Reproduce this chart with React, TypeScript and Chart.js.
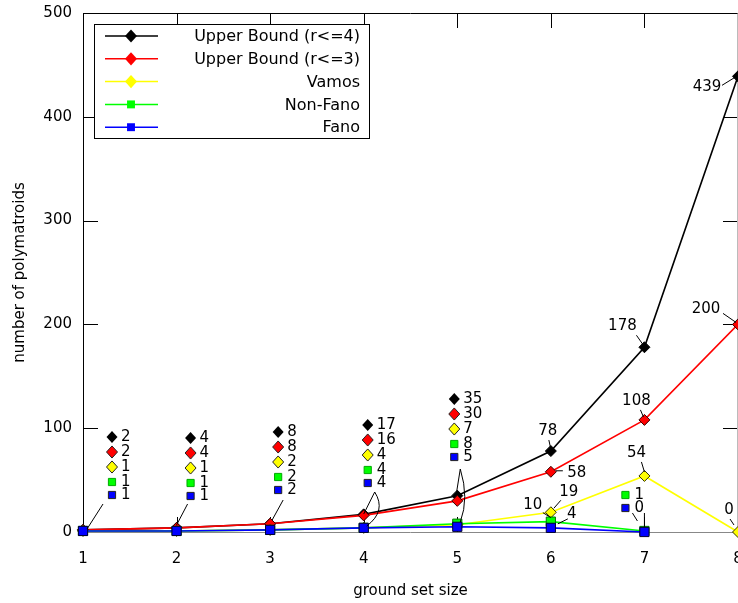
import { useEffect, useRef } from 'react';
import { Chart, registerables } from 'chart.js';
Chart.register(...registerables);

// ---------- data ----------
const groundSetSizes = [1, 2, 3, 4, 5, 6, 7, 8];
const upperBoundR4 = [2, 4, 8, 17, 35, 78, 178, 439];
const upperBoundR3 = [2, 4, 8, 16, 30, 58, 108, 200];
const vamos = [1, 1, 2, 4, 7, 19, 54, 0];
const nonFano = [1, 1, 2, 4, 8, 10, 1];
const fano = [1, 1, 2, 4, 5, 4, 0];
const yTicks = [0, 100, 200, 300, 400, 500];
const seriesNames = ['Upper Bound (r<=4)', 'Upper Bound (r<=3)', 'Vamos', 'Non-Fano', 'Fano'];
const xTitle = 'ground set size';
const yTitle = 'number of polymatroids';

// ---------- styles ----------
const FONT = "'DejaVu Sans', sans-serif";
const COLORS = ['#000000', '#ff0000', '#ffff00', '#00ff00', '#0000ff'];
const BORDERS = ['#000000', '#330000', '#333300', '#007700', '#000033'];
const SHAPES = ['rectRot', 'rectRot', 'rectRot', 'rect', 'rect'];
const ORDER = [5, 4, 3, 2, 1];
const TICK_LEN = 15;

// annotation columns: index into data, pixel offset from (x, 0)
const columns = [
  { i: 0, dx: 29, top: -95, series: [0, 1, 2, 3, 4] },
  { i: 1, dx: 14, top: -94, series: [0, 1, 2, 3, 4] },
  { i: 2, dx: 8, top: -100, series: [0, 1, 2, 3, 4] },
  { i: 3, dx: 4, top: -107, series: [0, 1, 2, 3, 4] },
  { i: 4, dx: -3, top: -133, series: [0, 1, 2, 3, 4] },
  { i: 6, dx: -19, top: -82, series: [3, 4] },
];
const rowOffsets = [0, 15, 30, 45, 58];
// connectors relative to (x pixel, zero pixel): [x1,y1,x2,y2] or with control [x1,y1,cx,cy,x2,y2]
const connectors: { i: number; pts: number[] }[] = [
  { i: 0, pts: [20, -28, 4, -3] },
  { i: 1, pts: [11, -28, 0, -7] },
  { i: 2, pts: [13, -32, 2, -12] },
  { i: 3, pts: [11, -40, 0, -18] },
  { i: 3, pts: [11, -40, 23, -21, 3, -6] },
  { i: 4, pts: [3, -63, -1, -38] },
  { i: 4, pts: [3, -63, 12, -34, 3, -10] },
  { i: 6, pts: [-12, -19, -7, -11] },
  { i: 6, pts: [0, -19, 0, -5] },
];
// point labels: series, index, label offset, leader offsets
const pointLabels = [
  { s: 0, i: 7, dx: -31, dy: 11, l: [-16, 9, -3, 1] },
  { s: 1, i: 7, dx: -32, dy: -15, l: [-15, -11, -2, -2] },
  { s: 0, i: 6, dx: -22, dy: -21, l: [-8, -12, -1, -2] },
  { s: 1, i: 6, dx: -8, dy: -19, l: [-4, -10, -1, -3] },
  { s: 0, i: 5, dx: -3, dy: -20, l: [-2, -11, 0, -2] },
  { s: 1, i: 5, dx: 26, dy: 1, l: [12, -1, 5, -1] },
  { s: 2, i: 6, dx: -8, dy: -23, l: [-3, -14, 0, -4] },
  { s: 2, i: 5, dx: 18, dy: -20, l: [10, -12, 3, -4] },
  { s: 3, i: 5, dx: -18, dy: -17, l: [-8, -9, 0, -4] },
  { s: 4, i: 5, dx: 21, dy: -14, l: [17, -9, 7, -4] },
  { s: 2, i: 7, dx: -9, dy: -22, l: [-8, -13, -4, -7] },
];

const allSeries = [upperBoundR4, upperBoundR3, vamos, nonFano, fano];

function drawMarker(ctx: CanvasRenderingContext2D, shape: string, x: number, y: number, fill: string, stroke: string | null, size: number) {
  ctx.save();
  ctx.beginPath();
  if (shape === 'rectRot') {
    ctx.moveTo(x, y - size * 1.1);
    ctx.lineTo(x + size, y);
    ctx.lineTo(x, y + size * 1.1);
    ctx.lineTo(x - size, y);
    ctx.closePath();
  } else {
    ctx.rect(x - size * 0.72, y - size * 0.72, size * 1.44, size * 1.44);
  }
  ctx.fillStyle = fill;
  ctx.fill();
  if (stroke) {
    ctx.strokeStyle = stroke;
    ctx.lineWidth = 1;
    ctx.stroke();
  }
  ctx.restore();
}

const decorPlugin = {
  id: 'decor',
  beforeDatasetsDraw(chart: any) {
    const { ctx, chartArea: a, scales } = chart;
    const xs = scales.x, ys = scales.y;
    ctx.save();
    ctx.lineWidth = 1;
    ctx.strokeStyle = '#000';
    ctx.beginPath();
    groundSetSizes.forEach((v) => {
      const px = Math.round(xs.getPixelForValue(v)) + 0.5;
      ctx.moveTo(px, a.bottom); ctx.lineTo(px, a.bottom - TICK_LEN);
      ctx.moveTo(px, a.top); ctx.lineTo(px, a.top + TICK_LEN);
    });
    yTicks.forEach((v) => {
      const py = Math.round(ys.getPixelForValue(v)) + 0.5;
      ctx.moveTo(a.left, py); ctx.lineTo(a.left + TICK_LEN, py);
      ctx.moveTo(a.right, py); ctx.lineTo(a.right - TICK_LEN, py);
    });
    ctx.stroke();
    ctx.beginPath();
    ctx.moveTo(Math.round(a.left) + 0.5, Math.round(a.bottom) + 0.5);
    ctx.lineTo(Math.round(a.left) + 0.5, Math.round(a.top) + 0.5);
    ctx.lineTo(Math.round(a.right) - 0.5, Math.round(a.top) + 0.5);
    ctx.stroke();
    ctx.strokeStyle = '#bbb';
    ctx.beginPath();
    ctx.moveTo(Math.round(a.right) - 0.5, Math.round(a.top) + 0.5);
    ctx.lineTo(Math.round(a.right) - 0.5, Math.round(a.bottom) + 0.5);
    ctx.stroke();
    ctx.strokeStyle = '#888';
    ctx.beginPath();
    ctx.moveTo(a.left, Math.round(a.bottom) + 0.5);
    ctx.lineTo(a.right, Math.round(a.bottom) + 0.5);
    ctx.stroke();
    ctx.restore();
  },
  afterDatasetsDraw(chart: any) {
    const { ctx, scales } = chart;
    const xs = scales.x, ys = scales.y;
    const zero = ys.getPixelForValue(0);
    ctx.save();
    ctx.font = `15px ${FONT}`;
    ctx.fillStyle = '#000';
    ctx.textBaseline = 'middle';
    // connectors
    ctx.strokeStyle = '#000';
    ctx.lineWidth = 1;
    connectors.forEach((c) => {
      const bx = xs.getPixelForValue(groundSetSizes[c.i]);
      const p = c.pts;
      ctx.beginPath();
      ctx.moveTo(bx + p[0], zero + p[1]);
      if (p.length === 4) ctx.lineTo(bx + p[2], zero + p[3]);
      else ctx.quadraticCurveTo(bx + p[2], zero + p[3], bx + p[4], zero + p[5]);
      ctx.stroke();
    });
    // annotation columns
    columns.forEach((col) => {
      const bx = xs.getPixelForValue(groundSetSizes[col.i]) + col.dx;
      col.series.forEach((s) => {
        const y = zero + col.top + rowOffsets[s];
        drawMarker(ctx, SHAPES[s], bx, y, COLORS[s], s === 3 ? '#00aa00' : (s === 0 ? null : '#222'), SHAPES[s] === 'rect' ? 5 : 5.5);
        ctx.fillStyle = '#000';
        ctx.textAlign = 'left';
        ctx.fillText(String(allSeries[s][col.i]), bx + 9, y);
      });
    });
    // point labels
    pointLabels.forEach((pl) => {
      const px = xs.getPixelForValue(groundSetSizes[pl.i]);
      const py = ys.getPixelForValue(allSeries[pl.s][pl.i]);
      ctx.textAlign = 'center';
      ctx.fillText(String(allSeries[pl.s][pl.i]), px + pl.dx, py + pl.dy);
      ctx.beginPath();
      ctx.moveTo(px + pl.l[0], py + pl.l[1]);
      ctx.lineTo(px + pl.l[2], py + pl.l[3]);
      ctx.stroke();
    });
    ctx.restore();
  },
  afterDraw(chart: any) {
    const { ctx } = chart;
    ctx.save();
    // legend box
    ctx.strokeStyle = '#000';
    ctx.lineWidth = 1;
    ctx.fillStyle = '#fff';
    ctx.fillRect(94.5, 24.5, 275, 114);
    ctx.strokeRect(94.5, 24.5, 275, 114);
    ctx.font = `16px ${FONT}`;
    ctx.textAlign = 'right';
    ctx.textBaseline = 'middle';
    seriesNames.forEach((name, k) => {
      const y = 36 + k * 22.8;
      ctx.strokeStyle = COLORS[k];
      ctx.lineWidth = 1.5;
      ctx.beginPath();
      ctx.moveTo(105, y); ctx.lineTo(158, y);
      ctx.stroke();
      drawMarker(ctx, SHAPES[k], 131, y, COLORS[k], null, SHAPES[k] === 'rect' ? 5.5 : 6);
      ctx.fillStyle = '#000';
      ctx.fillText(name, 360, y + 1);
    });
    ctx.restore();
  },
};

export default function App() {
  const ref = useRef<HTMLCanvasElement>(null);
  useEffect(() => {
    if (!ref.current) return;
    const datasets = allSeries.map((vals, k) => ({
      label: seriesNames[k],
      data: vals.map((v, i) => ({ x: groundSetSizes[i], y: v })),
      borderColor: COLORS[k],
      backgroundColor: COLORS[k],
      pointBackgroundColor: COLORS[k],
      pointBorderColor: BORDERS[k],
      pointBorderWidth: 1,
      pointStyle: SHAPES[k],
      pointRadius: SHAPES[k] === 'rect' ? 6.5 : 5.5,
      borderWidth: 1.6,
      order: ORDER[k],
      clip: false as any,
      tension: 0,
    }));
    const tickFont = { family: FONT, size: 15 };
    const chart = new Chart(ref.current, {
      type: 'line',
      data: { datasets },
      plugins: [decorPlugin],
      options: {
        animation: false,
        responsive: false,
        layout: { autoPadding: false, padding: { top: 13, right: 0, left: 0, bottom: 0 } },
        plugins: { legend: { display: false }, tooltip: { enabled: false } },
        scales: {
          x: {
            type: 'linear', min: 1, max: 8,
            afterBuildTicks: (s: any) => { s.ticks = groundSetSizes.map((v) => ({ value: v })); },
            ticks: { font: tickFont, color: '#000', padding: 18, maxRotation: 0, autoSkip: false },
            grid: { display: false, drawTicks: false }, border: { display: false },
            title: { display: true, text: xTitle, font: tickFont, color: '#000', padding: { top: 0, bottom: 3 } },
            afterFit: (s: any) => { s.height = 71; s.paddingLeft = 0; s.paddingRight = 0; },
          },
          y: {
            type: 'linear', min: 0, max: 500,
            afterBuildTicks: (s: any) => { s.ticks = yTicks.map((v) => ({ value: v })); },
            ticks: { font: tickFont, color: '#000', padding: 11 },
            grid: { display: false, drawTicks: false }, border: { display: false },
            title: { display: true, text: yTitle, font: tickFont, color: '#000', padding: { top: 11, bottom: 0 } },
            afterFit: (s: any) => { s.width = 83; s.paddingTop = 0; s.paddingBottom = 0; },
          },
        },
      } as any,
    });
    return () => chart.destroy();
  }, []);
  return (
    <div style={{ position: 'fixed', left: 0, top: 0, width: 738, height: 603, background: '#fff' }}>
      <canvas ref={ref} width={738} height={603} />
    </div>
  );
}
